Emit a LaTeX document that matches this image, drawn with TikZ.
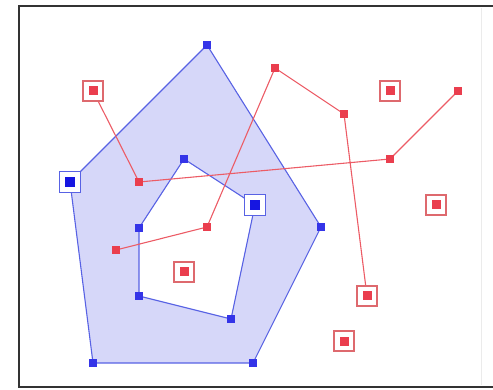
\documentclass[tikz,border=0pt]{standalone}
\usetikzlibrary{backgrounds}
\definecolor{redline}{RGB}{236,92,102}
\definecolor{redmark}{RGB}{234,62,78}
\definecolor{redbox}{RGB}{222,105,110}
\definecolor{blueline}{RGB}{88,98,228}
\definecolor{bluefill}{RGB}{214,215,249}
\definecolor{bluemark}{RGB}{52,52,232}
\definecolor{bluecore}{RGB}{22,22,225}
\tikzset{
  rdot/.style={rectangle,fill=redmark,minimum size=8pt,inner sep=0pt},
  bdot/.style={rectangle,fill=bluemark,minimum size=8pt,inner sep=0pt},
  rboxed/.style={rectangle,draw=redbox,line width=1.2pt,fill=white,minimum size=20pt,inner sep=0pt,
    path picture={\fill[redmark] ([shift={(-4.5pt,-4.5pt)}]path picture bounding box.center) rectangle ++(9pt,9pt);}},
  bboxed/.style={rectangle,draw=blueline,line width=1.2pt,fill=white,minimum size=21pt,inner sep=0pt,
    path picture={\fill[bluecore] ([shift={(-5pt,-5pt)}]path picture bounding box.center) rectangle ++(10pt,10pt);}},
  redwire/.style={draw=redline,line width=1.1pt},
  bluewire/.style={draw=blueline,line width=1.1pt},
  frameline/.style={draw=black!80,line width=2.6pt},
}
\begin{document}
\begin{tikzpicture}[x=1pt,y=-1pt]
\useasboundingbox (0,0) rectangle (493,390);

% outer boundary of the blue region
\node[bboxed] (o1) at (70,182) {};
\node[bdot]   (o2) at (207,45) {};
\node[bdot]   (o3) at (321,227) {};
\node[bdot]   (o4) at (253,363) {};
\node[bdot]   (o5) at (93,363) {};
% hole of the blue region
\node[bdot]   (h1) at (184,159) {};
\node[bboxed] (h2) at (255,205) {};
\node[bdot]   (h3) at (231,319) {};
\node[bdot]   (h4) at (139,296) {};
\node[bdot]   (h5) at (139,228) {};

% first red polyline
\node[rboxed] (a1) at (93,91) {};
\node[rdot]   (a2) at (139,182) {};
\node[rdot]   (a3) at (390,159) {};
\node[rdot]   (a4) at (458,91) {};
% second red polyline
\node[rdot]   (b1) at (116,250) {};
\node[rdot]   (b2) at (207,227) {};
\node[rdot]   (b3) at (275,68) {};
\node[rdot]   (b4) at (344,114) {};
\node[rboxed] (b5) at (367,296) {};
% isolated red points
\node[rboxed] (s1) at (390,91) {};
\node[rboxed] (s2) at (436,205) {};
\node[rboxed] (s3) at (184,272) {};
\node[rboxed] (s4) at (344,341) {};

\begin{scope}[on background layer]
  \fill[bluefill,even odd rule]
    (o1.center) -- (o2.center) -- (o3.center) -- (o4.center) -- (o5.center) -- cycle
    (h1.center) -- (h2.center) -- (h3.center) -- (h4.center) -- (h5.center) -- cycle;
  \path[bluewire] (o1.center) -- (o2.center) -- (o3.center) -- (o4.center) -- (o5.center) -- cycle;
  \path[bluewire] (h1.center) -- (h2.center) -- (h3.center) -- (h4.center) -- (h5.center) -- cycle;
  \path[redwire] (a1.center) -- (a2.center) -- (a3.center) -- (a4.center);
  \path[redwire] (b1.center) -- (b2.center) -- (b3.center) -- (b4.center) -- (b5.center);
\end{scope}

% frame
\draw[black!8,line width=0.8pt] (481,8) -- (481,385);
\draw[frameline] (493,6) -- (19,6) -- (19,387) -- (493,387);
\end{tikzpicture}
\end{document}
